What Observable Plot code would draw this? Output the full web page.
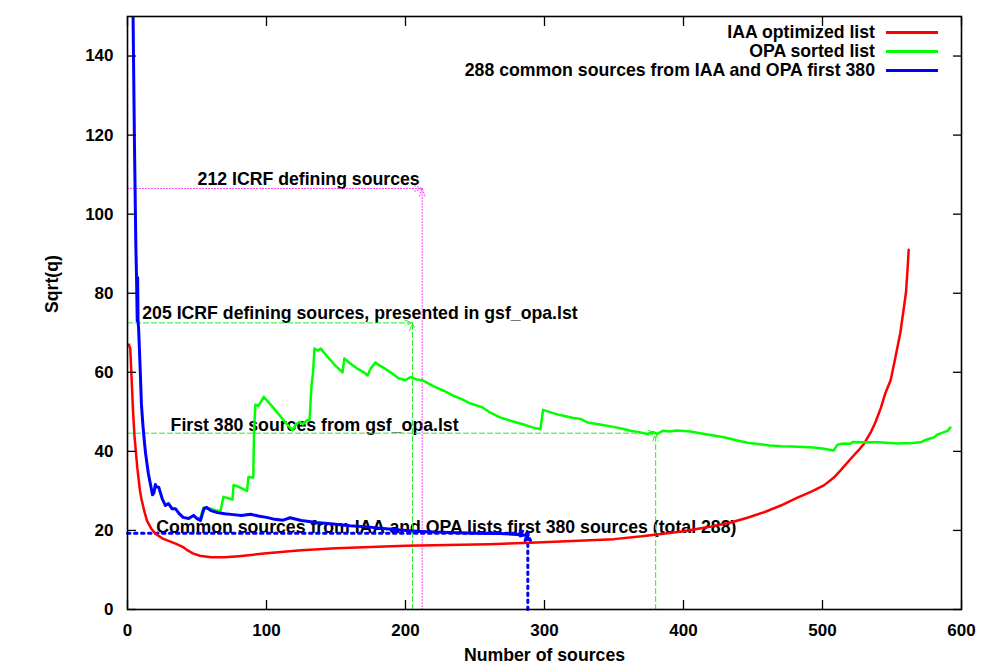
<!DOCTYPE html>
<html>
<head>
<meta charset="utf-8">
<script src="https://cdn.jsdelivr.net/npm/d3@7"></script>
<script src="https://cdn.jsdelivr.net/npm/@observablehq/plot@0.6"></script>
<style>
  html, body { margin: 0; padding: 0; background: #fff; }
  #wrap { position: relative; width: 1007px; height: 669px; font-family: "Liberation Sans", Arial, sans-serif; }
  #legend { position: absolute; right: 69px; top: 23px; font-size: 17.7px; font-weight: bold; color: #000; }
  #legend .row { display: flex; align-items: center; justify-content: flex-end; height: 19px; line-height: 19px; }
  #legend .sw { width: 52px; height: 3px; margin-left: 11px; }
</style>
</head>
<body>
<div id="wrap"><div id="chart"></div><div id="legend"></div></div>
<script>
// ---- data ----
const xTicks = [0, 100, 200, 300, 400, 500, 600];
const yTicks = [0, 20, 40, 60, 80, 100, 120, 140];

const seriesNames = ["IAA optimized list", "OPA sorted list", "288 common sources from IAA and OPA first 380"];
const seriesColors = ["#ff0000", "#00ff00", "#0000ff"];

// IAA optimized list (red)
const iaaX = [1, 2, 3, 4, 5, 6, 7, 8, 9, 10, 12, 14, 17, 20, 25, 30, 35, 40, 43, 47, 52, 60, 70, 80, 100, 125, 150, 175, 200, 230, 260, 290, 320, 350, 370, 381, 400, 420, 434, 446, 458, 470, 482, 492, 501, 508, 513, 520, 526, 530, 535, 538, 542, 545, 549, 552, 556, 558, 560, 561, 562];
const iaaY = [67, 66, 58, 50, 44, 40, 36, 33, 30, 28, 25, 22.5, 20.5, 19.2, 18, 17.3, 16.6, 15.8, 15, 14.2, 13.6, 13.2, 13.2, 13.5, 14.2, 15, 15.5, 15.8, 16.1, 16.3, 16.5, 16.9, 17.3, 17.8, 18.5, 19, 19.8, 21, 22, 23.2, 24.6, 26.3, 28.3, 29.8, 31.4, 33.3, 35.2, 38, 40.3, 42, 45, 47.3, 51, 54.5, 58, 63, 70, 75, 80, 85, 91];

// OPA sorted list (green)
const opaX = [50, 52.5, 54.7, 60, 64, 67, 69, 72, 75.5, 76.3, 80, 86, 87, 90.5, 91, 92, 94, 96, 98, 105, 112, 118.7, 121, 124, 126, 129, 131, 132.4, 133.5, 134.5, 137, 139, 145, 150, 154.7, 156, 160, 165, 170, 172.7, 175, 178.4, 181, 184, 190, 195, 200, 203.6, 208, 212, 220, 227, 235, 240, 246.8, 255, 260, 268, 275, 285, 292, 297, 299, 305, 310, 313.7, 320, 326, 331, 340, 349.6, 356, 362, 369, 374, 378, 381, 385, 390, 395, 398, 405, 412, 421.6, 430, 438, 446, 455, 462, 470, 478, 486, 493.5, 500, 508, 510.8, 515, 520, 522, 530, 540, 554, 565, 570.5, 575, 580, 583, 587, 590, 592];
const opaY = [23, 23.3, 25.8, 25.5, 25, 25, 28.5, 28.2, 27.8, 31.5, 31, 30, 33.5, 33.4, 45, 51.8, 51.5, 52.5, 53.8, 51, 48, 45.3, 46.8, 47.5, 46.8, 47.8, 48, 56.7, 60, 66, 65.5, 66, 63.5, 61.5, 60, 63.5, 62.3, 61, 60, 59.2, 61, 62.5, 61.8, 61.2, 59.8, 58.5, 58, 58.8, 58.2, 58, 56.5, 55.4, 54, 53.3, 52.1, 51.2, 50, 48.6, 47.8, 46.8, 46, 45.6, 50.5, 49.8, 49.3, 49, 48.5, 48.2, 47.3, 46.8, 46.2, 45.7, 45.2, 44.8, 44.4, 44.9, 44.4, 45.2, 45, 45.3, 45.2, 45, 44.6, 44, 43.5, 42.8, 42.2, 41.8, 41.5, 41.3, 41.2, 41.1, 41, 40.7, 40.2, 41.7, 42, 41.9, 42.4, 42.3, 42.3, 42, 42.1, 42.3, 43, 43.5, 44.3, 44.8, 45.2, 46];

// 288 common sources (blue)
const comX = [2, 4, 5, 6, 6.5, 7, 7.3, 7.6, 8, 9, 10, 11, 12, 13, 15, 18, 19, 20, 21, 22.5, 25, 27.3, 29.5, 32, 34.5, 37, 40, 44, 47.5, 50, 52.5, 55, 57, 60, 64.7, 70, 76, 82, 88.5, 95, 100, 106, 112, 117, 125, 136, 148, 160, 172, 184, 196, 208, 220, 232, 250, 268, 280, 288];
const comY = [190, 150, 118, 92, 84, 73, 84, 73, 71, 62, 52, 47, 43, 39.5, 34.4, 29, 29.5, 31.6, 31, 30.9, 28, 26.3, 26.8, 25.5, 25.5, 24.3, 23.3, 23, 23.8, 23, 22.5, 25.5, 25.8, 25, 24.5, 24.2, 24, 23.8, 24.1, 23.6, 23.3, 22.8, 22.6, 23.2, 22.5, 22, 21.6, 21.2, 20.9, 20.5, 20.1, 19.8, 19.6, 19.5, 19.3, 19.2, 19.0, 18.7];

// annotations
const annText = ["212 ICRF defining sources", "205 ICRF defining sources, presented in gsf_opa.lst", "First 380 sources from gsf_opa.lst", "Common sources from IAA and OPA lists first 380 sources (total 288)"];
const annTextX = [50.4, 10.6, 31, 20.6];
const annTextY = [108.8, 74.9, 46.7, 20.7];
const annX = [212, 205, 380, 288];
const annY = [106.5, 72.5, 44.6, 19.3];
const annColor = ["#ff33ff", "#22ee22", "#22ee22", "#0000ff"];

// ---- build tables ----
const toPts = (xs, ys) => xs.map((x, i) => ({x, y: ys[i]}));
const iaa = toPts(iaaX, iaaY);
const opa = toPts(opaX, opaY);
const com = toPts(comX, comY);
const ann = annX.map((x, i) => ({x, y: annY[i], c: annColor[i], t: annText[i], tx: annTextX[i], ty: annTextY[i]}));
const annStyle = [
  {strokeWidth: 1, strokeDasharray: "1,2", headLength: 12},
  {strokeWidth: 1, strokeDasharray: "5,3", headLength: 12},
  {strokeWidth: 1, strokeDasharray: "5,3", headLength: 12},
  {strokeWidth: 3, strokeDasharray: "2.5,4.5", headLength: 4}
];

const annMarks = ann.flatMap((a, i) => [
  Plot.arrow([a], {x1: 0, y1: "y", x2: "x", y2: "y", stroke: a.c, headAngle: 40, ...annStyle[i]}),
  Plot.arrow([a], {x1: "x", y1: 0, x2: "x", y2: "y", stroke: a.c, headAngle: 40, ...annStyle[i]})
]);

const chart = Plot.plot({
  width: 1007,
  height: 669,
  marginLeft: 127,
  marginRight: 46,
  marginTop: 16,
  marginBottom: 60,
  x: {domain: [0, 600]},
  y: {domain: [0, 150]},
  style: {fontFamily: "'Liberation Sans', Arial, sans-serif", fontSize: "17.7px", fontWeight: "bold", background: "#fff", color: "#000"},
  marks: [
    Plot.text(ann, {x: "tx", y: "ty", text: "t", textAnchor: "start", lineAnchor: "middle", fill: "#000"}),
    ...annMarks,
    Plot.line(iaa, {x: "x", y: "y", stroke: seriesColors[0], strokeWidth: 2.5, clip: true}),
    Plot.line(opa, {x: "x", y: "y", stroke: seriesColors[1], strokeWidth: 2.5, clip: true}),
    Plot.line(com, {x: "x", y: "y", stroke: seriesColors[2], strokeWidth: 3, clip: true}),
    Plot.frame({stroke: "#000", strokeWidth: 1.6}),
    Plot.axisX(xTicks, {anchor: "bottom", tickSize: 9, dy: -9, fill: "none", stroke: "#000", strokeWidth: 1.3}),
    Plot.axisX(xTicks, {anchor: "top", tickSize: 9, dy: 9, fill: "none", stroke: "#000", strokeWidth: 1.3}),
    Plot.axisY(yTicks, {anchor: "left", tickSize: 9, dx: 9, fill: "none", stroke: "#000", strokeWidth: 1.3}),
    Plot.axisY(yTicks, {anchor: "right", tickSize: 9, dx: -9, fill: "none", stroke: "#000", strokeWidth: 1.3}),
    Plot.axisX(xTicks, {anchor: "bottom", tickSize: 0, tickPadding: 14, label: null, fill: "#000", fontSize: 17}),
    Plot.axisY(yTicks, {anchor: "left", tickSize: 0, tickPadding: 14, label: null, fill: "#000", fontSize: 17}),
    Plot.text(["Number of sources"], {text: d => d, frameAnchor: "bottom", dy: 51, fill: "#000"}),
    Plot.text(["Sqrt(q)"], {text: d => d, frameAnchor: "left", dx: -75, rotate: -90, fill: "#000"})
  ]
});
document.getElementById("chart").appendChild(chart);

// legend
const legend = document.getElementById("legend");
seriesNames.forEach((name, i) => {
  const row = document.createElement("div");
  row.className = "row";
  const label = document.createElement("span");
  label.textContent = name;
  const sw = document.createElement("span");
  sw.className = "sw";
  sw.style.background = seriesColors[i];
  row.appendChild(label);
  row.appendChild(sw);
  legend.appendChild(row);
});
</script>
</body>
</html>
